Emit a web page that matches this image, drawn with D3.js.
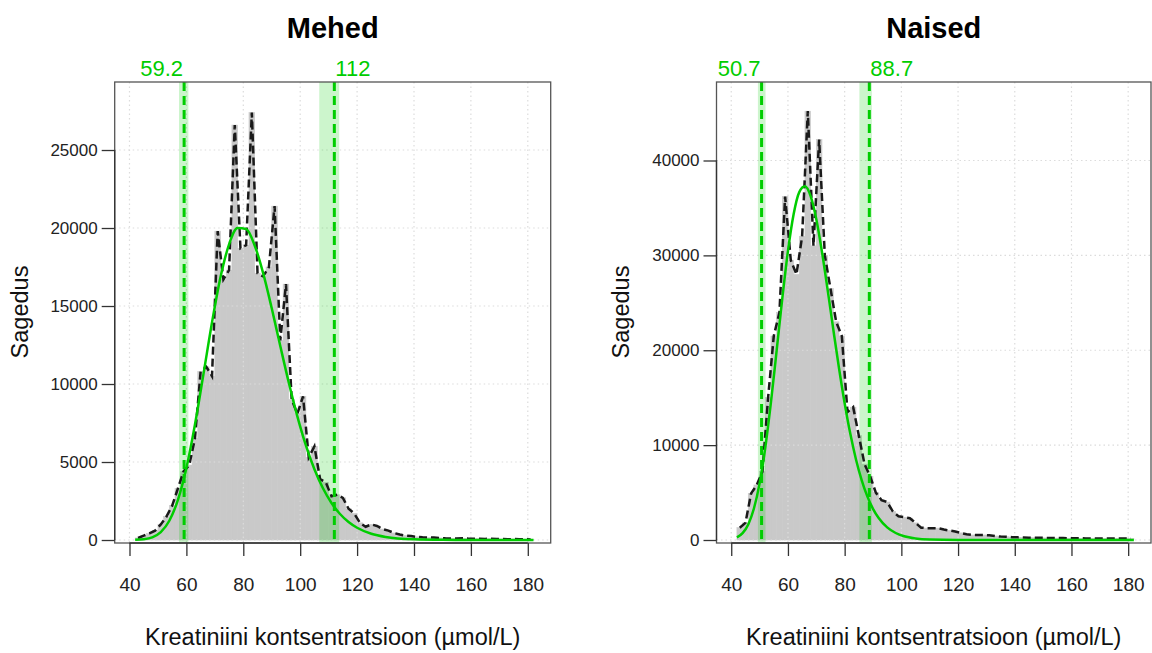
<!DOCTYPE html>
<html>
<head>
<meta charset="utf-8">
<script src="https://cdn.jsdelivr.net/npm/d3@7"></script>
<style>
  body { margin: 0; background: #fff; }
  svg { display: block; }
  text { font-family: "Liberation Sans", Arial, Helvetica, sans-serif; }
</style>
</head>
<body>
<svg id="chart" width="1152" height="653"></svg>
<script>
// bin midpoints (bin width 2)
var binMids = [43, 45, 47, 49, 51, 53, 55, 57, 59, 61, 63, 65, 67, 69, 71, 73, 75, 77, 79, 81,
  83, 85, 87, 89, 91, 93, 95, 97, 99, 101, 103, 105, 107, 109, 111, 113, 115, 117, 119, 121,
  123, 125, 127, 129, 131, 133, 135, 137, 139, 141, 143, 145, 147, 149, 151, 153, 155, 157, 159, 161,
  163, 165, 167, 169, 171, 173, 175, 177, 179, 181]

var menCounts = [130, 280, 420, 600, 1000, 1500, 2200, 3300, 4400, 4800, 6500, 10800, 11100, 10500, 19800, 16700, 17300, 26600, 18700, 18900,
  27400, 17100, 16900, 17500, 21400, 12800, 16400, 9000, 8100, 9200, 5300, 6000, 3900, 3700, 2800, 2900, 2700, 2000, 1700, 1100,
  850, 1000, 900, 700, 600, 450, 350, 280, 250, 200, 170, 150, 160, 130, 110, 100, 90, 110, 90, 80,
  80, 70, 80, 60, 60, 50, 60, 50, 50, 40]

var womenCounts = [1300, 1800, 4900, 5800, 7200, 15000, 21500, 24000, 36200, 29500, 28000, 32000, 45200, 31000, 42200, 30000, 26500, 23000, 21500, 13500,
  14000, 11000, 8000, 6700, 5000, 4200, 4000, 3000, 2500, 2400, 2300, 1800, 1300, 1250, 1250, 1250, 1100, 1000, 900, 750,
  600, 530, 530, 530, 500, 420, 360, 340, 300, 280, 260, 250, 240, 230, 220, 210, 200, 200, 190, 180,
  180, 170, 170, 160, 160, 160, 150, 150, 150, 140]

// fitted density curves
var menCurveX = [42, 45, 48, 51, 54, 57, 60, 63, 66, 69, 72, 75, 78, 81, 84, 87, 90, 93, 96, 99,
  102, 105, 108, 111, 114, 117, 120, 125, 130, 140, 150, 160, 170, 182]
var menCurveY = [10, 47, 172, 507, 1235, 2563, 4620, 7389, 10635, 13943, 16854, 18955, 19998, 19932, 18880, 17091, 14852, 12438, 10084, 7930,
  6068, 4533, 3314, 2372, 1668, 1153, 785, 401, 199, 45, 9, 2, 0, 0]

var womenCurveX = [42, 44, 46, 48, 50, 52, 54, 56, 58, 60, 62, 64, 66, 68, 70, 72, 74, 76, 78, 80,
  82, 84, 86, 88, 90, 92, 95, 98, 101, 105, 110, 120, 130, 182]
var womenCurveY = [273, 720, 1643, 3316, 5967, 9725, 14496, 19923, 25443, 30448, 34331, 36670, 37280, 36241, 33810, 30374, 26371, 22186, 18124, 14420,
  11190, 8489, 6307, 4595, 3286, 2313, 1328, 738, 400, 170, 55, 5, 0, 0]

var menLimits = [59.2, 112]
var womenLimits = [50.7, 88.7]
var menBands = [[57.4, 60.7], [106.7, 113.7]]
var womenBands = [[49.4, 52.1], [85.2, 89.6]]

var xTicks = [40, 60, 80, 100, 120, 140, 160, 180]
var menYTicks = [0, 5000, 10000, 15000, 20000, 25000]
var womenYTicks = [0, 10000, 20000, 30000, 40000]

var titles = ['Mehed', 'Naised']
var xTitle = 'Kreatiniini kontsentratsioon (µmol/L)'
var yTitle = 'Sagedus'

var svg = d3.select('#chart')
var green = '#00cd00'
var plotTop = 82, plotBottom = 543

function drawPanel (p) {
  var x = d3.scaleLinear().domain([34.8, 188.05]).range([p.left, p.right])
  var y = d3.scaleLinear().domain(p.yDomain).range([plotBottom, plotTop])
  var g = svg.append('g')
  var bins = binMids.map(function (m, i) { return { mid: m, n: p.counts[i] } })

  // histogram bars
  g.append('g').selectAll('rect')
    .data(bins)
    .join('rect')
    .attr('x', function (d) { return x(d.mid - 1) })
    .attr('width', function (d) { return x(d.mid + 1) - x(d.mid - 1) })
    .attr('y', function (d) { return y(d.n) })
    .attr('height', function (d) { return y(0) - y(d.n) })
    .attr('fill', '#c9c9c9')
    .attr('stroke', '#c9c9c9')
    .attr('stroke-width', 0.6)

  // dotted grid
  var grid = g.append('g')
    .attr('stroke', '#dcdcdc')
    .attr('stroke-width', 1.2)
    .attr('stroke-dasharray', '1.5,3')
  grid.selectAll('line.v').data(xTicks).join('line').attr('class', 'v')
    .attr('x1', function (d) { return x(d) }).attr('x2', function (d) { return x(d) })
    .attr('y1', plotTop).attr('y2', plotBottom)
  grid.selectAll('line.h').data(p.yTicks).join('line').attr('class', 'h')
    .attr('x1', p.left).attr('x2', p.right)
    .attr('y1', function (d) { return y(d) }).attr('y2', function (d) { return y(d) })

  // reference interval bands
  g.append('g').selectAll('rect')
    .data(p.bands)
    .join('rect')
    .attr('x', function (d) { return x(d[0]) })
    .attr('width', function (d) { return x(d[1]) - x(d[0]) })
    .attr('y', plotTop)
    .attr('height', plotBottom - plotTop)
    .attr('fill', green)
    .attr('fill-opacity', 0.2)

  // frequency polygon
  var poly = d3.line()
    .x(function (d) { return x(d.mid) })
    .y(function (d) { return y(d.n) })
  g.append('path')
    .datum(bins)
    .attr('d', poly)
    .attr('fill', 'none')
    .attr('stroke', '#1a1a1a')
    .attr('stroke-width', 2.5)
    .attr('stroke-dasharray', '8,4')

  // fitted curve
  var curve = d3.line()
    .x(function (d) { return x(d[0]) })
    .y(function (d) { return y(d[1]) })
    .curve(d3.curveMonotoneX)
  g.append('path')
    .datum(p.curveX.map(function (v, i) { return [v, p.curveY[i]] }))
    .attr('d', curve)
    .attr('fill', 'none')
    .attr('stroke', green)
    .attr('stroke-width', 2.5)

  // limit lines + labels
  g.append('g').selectAll('line')
    .data(p.limits)
    .join('line')
    .attr('x1', function (d) { return x(d) }).attr('x2', function (d) { return x(d) })
    .attr('y1', plotTop).attr('y2', plotBottom)
    .attr('stroke', green)
    .attr('stroke-width', 3)
    .attr('stroke-dasharray', '9,5')
  g.append('g').selectAll('text')
    .data(p.limits)
    .join('text')
    .attr('x', function (d, i) { return i === 0 ? x(d) - 1 : x(d) + 1 })
    .attr('y', 76)
    .attr('text-anchor', function (d, i) { return i === 0 ? 'end' : 'start' })
    .attr('fill', green)
    .attr('font-size', 22)
    .text(function (d) { return String(d) })

  // box
  g.append('rect')
    .attr('x', p.left).attr('y', plotTop)
    .attr('width', p.right - p.left).attr('height', plotBottom - plotTop)
    .attr('fill', 'none')
    .attr('stroke', '#555')
    .attr('stroke-width', 1.3)

  // axes
  var ax = g.append('g')
    .attr('transform', 'translate(0,' + plotBottom + ')')
    .call(d3.axisBottom(x).tickValues(xTicks).tickSize(13).tickSizeOuter(0).tickPadding(22))
  ax.select('.domain').remove()
  ax.append('line').attr('x1', x(40)).attr('x2', x(180)).attr('stroke', '#333').attr('stroke-width', 1.3)
  ax.selectAll('.tick line').attr('stroke', '#333').attr('stroke-width', 1.3)
  ax.selectAll('.tick text').attr('font-size', 19).attr('fill', '#222')
    .attr('font-family', '"Liberation Sans", Arial, sans-serif')

  var ay = g.append('g')
    .attr('transform', 'translate(' + p.left + ',0)')
    .call(d3.axisLeft(y).tickValues(p.yTicks).tickSize(13).tickSizeOuter(0).tickPadding(4).tickFormat(d3.format('d')))
  ay.select('.domain').remove()
  ay.append('line').attr('y1', y(0)).attr('y2', y(p.yTicks[p.yTicks.length - 1])).attr('stroke', '#333').attr('stroke-width', 1.3)
  ay.selectAll('.tick line').attr('stroke', '#333').attr('stroke-width', 1.3)
  ay.selectAll('.tick text').attr('font-size', 17).attr('fill', '#222')
    .attr('font-family', '"Liberation Sans", Arial, sans-serif')

  // titles
  var cx = (p.left + p.right) / 2
  g.append('text')
    .attr('x', cx).attr('y', 38)
    .attr('text-anchor', 'middle')
    .attr('font-size', 29)
    .attr('font-weight', 'bold')
    .text(p.title)
  g.append('text')
    .attr('x', cx).attr('y', 645)
    .attr('text-anchor', 'middle')
    .attr('font-size', 23.5)
    .attr('fill', '#111')
    .text(xTitle)
  g.append('text')
    .attr('transform', 'translate(' + p.yTitleX + ',312) rotate(-90)')
    .attr('text-anchor', 'middle')
    .attr('font-size', 23.5)
    .attr('fill', '#111')
    .text(yTitle)
}

drawPanel({
  left: 114.7, right: 550.7, yDomain: [-192, 29360], yTicks: menYTicks,
  counts: menCounts, curveX: menCurveX, curveY: menCurveY,
  limits: menLimits, bands: menBands, title: titles[0], yTitleX: 28
})
drawPanel({
  left: 716.5, right: 1151, yDomain: [-316, 48274], yTicks: womenYTicks,
  counts: womenCounts, curveX: womenCurveX, curveY: womenCurveY,
  limits: womenLimits, bands: womenBands, title: titles[1], yTitleX: 629
})
</script>
</body>
</html>
